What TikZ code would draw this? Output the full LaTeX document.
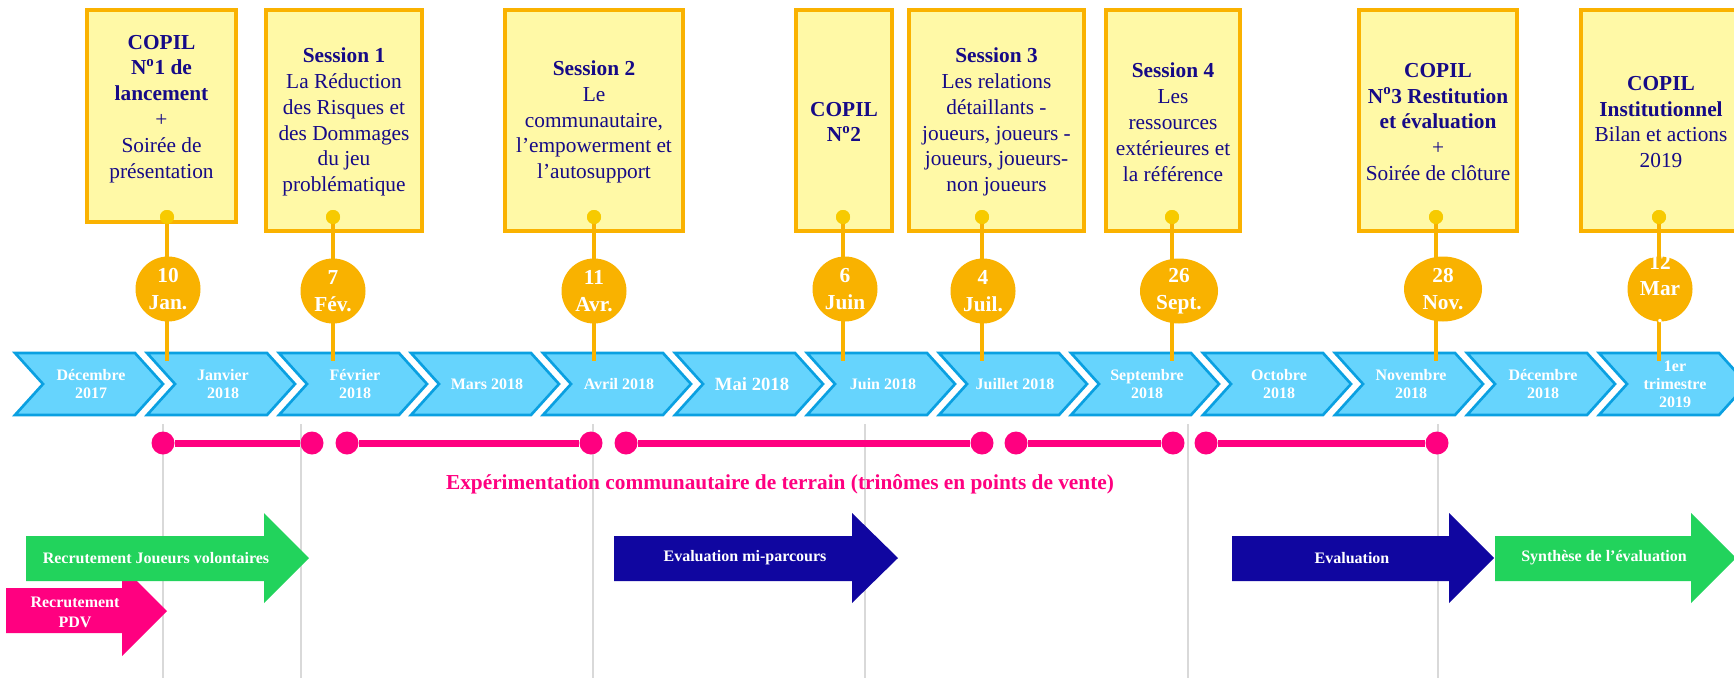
\documentclass[tikz,border=0pt]{standalone}
\usepackage{fontspec}
\setmainfont{Liberation Serif}
\usetikzlibrary{shapes.geometric}
\definecolor{boxborder}{RGB}{250,178,0}
\definecolor{boxfill}{RGB}{255,249,166}
\definecolor{dotc}{RGB}{247,202,0}
\definecolor{datefill}{RGB}{249,178,0}
\definecolor{navytxt}{RGB}{22,10,135}
\definecolor{chevfill}{RGB}{102,212,253}
\definecolor{chevline}{RGB}{10,160,225}
\definecolor{magc}{RGB}{255,0,128}
\definecolor{greenc}{RGB}{34,211,92}
\definecolor{navyc}{RGB}{16,6,160}
\definecolor{gridc}{RGB}{217,217,217}
\begin{document}
\begin{tikzpicture}[x=0.75pt,y=-0.75pt,
  ybox/.style={draw=boxborder,line width=3pt,fill=boxfill,inner sep=0pt,minimum height=165.75pt},
  btxt/.style={align=center,text=navytxt,font=\fontsize{16}{19.4}\selectfont,inner sep=0pt},
  ydot/.style={circle,fill=dotc,minimum size=10.5pt,inner sep=0pt},
  conn/.style={draw=datefill,line width=3pt},
  datecirc/.style={ellipse,fill=datefill,minimum height=48.75pt,minimum width=48.75pt,inner sep=0pt},
  dtxt/.style={align=center,text=white,font=\bfseries\fontsize{16}{20}\selectfont,inner sep=0pt},
  chev/.style={draw=chevline,line width=2pt,fill=chevfill,line join=miter},
  mlab/.style={align=center,text=white,font=\bfseries\fontsize{12}{13.5}\selectfont,inner sep=0pt},
  gline/.style={draw=gridc,line width=1.2pt},
  pdot/.style={circle,fill=magc,minimum size=17.25pt,inner sep=0pt},
  pseg/.style={draw=magc,line width=5.25pt},
  atxt/.style={align=center,text=white,font=\bfseries\fontsize{12}{15}\selectfont,inner sep=0pt}
]
\useasboundingbox[fill=white] (0,0) rectangle (1734,678);

% ---------- grey guide lines ----------
\foreach \gx in {163,301,593,865,1188,1438}{\draw[gline] (\gx,424) -- (\gx,678);}

% ---------- month chevrons ----------
\foreach \i/\t in {0/{Décembre\\2017},1/{Janvier\\2018},2/{Février\\2018},3/{Mars 2018},4/{Avril 2018},6/{Juin 2018},7/{Juillet 2018},8/{Septembre\\2018},9/{Octobre\\2018},10/{Novembre\\2018},11/{Décembre\\2018},12/{1er\\trimestre\\2019}}{
  \pgfmathsetmacro\xo{15+132*\i}
  \draw[chev] (\xo,353) -- ++(120,0) -- ++(28,31) -- ++(-28,31) -- ++(-120,0) -- ++(28,-31) -- cycle;
  \node[mlab] (m\i) at (\xo+76,384) {\t};
}
\draw[chev] (675,353) -- ++(120,0) -- ++(28,31) -- ++(-28,31) -- ++(-120,0) -- ++(28,-31) -- cycle;
\node[mlab,font=\bfseries\fontsize{14}{16}\selectfont] (m5) at (752,384) {Mai 2018};

% ---------- event boxes ----------
\node[ybox,minimum width=111.75pt,minimum height=159pt] (b1) at (161.5,116) {};
\node[ybox,minimum width=117pt] (b2) at (344,120.5) {};
\node[ybox,minimum width=133.5pt] (b3) at (594,120.5) {};
\node[ybox,minimum width=72pt] (b4) at (844,120.5) {};
\node[ybox,minimum width=131.25pt] (b5) at (996.5,120.5) {};
\node[ybox,minimum width=100.5pt] (b6) at (1173,120.5) {};
\node[ybox,minimum width=118.5pt] (b7) at (1438,120.5) {};
\node[ybox,minimum width=120pt] (b8) at (1661,120.5) {};

\node[btxt] (t1) at (161.5,109) {\textbf{COPIL}\\\textbf{N\textsuperscript{o}1 de}\\\textbf{lancement}\\+\\Soirée de\\présentation};
\node[btxt] (t2) at (344,122) {\textbf{Session 1}\\La Réduction\\des Risques et\\des Dommages\\du jeu\\problématique};
\node[btxt] (t3) at (594,122) {\textbf{Session 2}\\Le\\communautaire,\\l’empowerment et\\l’autosupport};
\node[btxt] (t4) at (844,122) {\textbf{COPIL}\\\textbf{N\textsuperscript{o}2}};
\node[btxt] (t5) at (996.5,122) {\textbf{Session 3}\\Les relations\\détaillants -\\joueurs, joueurs -\\joueurs, joueurs-\\non joueurs};
\node[btxt] (t6) at (1173,122) {\textbf{Session 4}\\Les\\ressources\\extérieures et\\la référence};
\node[btxt] (t7) at (1438,122) {\textbf{COPIL}\\\textbf{N\textsuperscript{o}3 Restitution}\\\textbf{et évaluation}\\+\\Soirée de clôture};
\node[btxt] (t8) at (1661,122) {\textbf{COPIL}\\\textbf{Institutionnel}\\Bilan et actions\\2019};

% ---------- connectors ----------
\foreach \k/\dx in {1/167,2/333,3/594,4/843,5/982,6/1172,7/1436,8/1659}{
  \coordinate (e\k) at (\dx,361);
  \node[ydot] (d\k) at (\dx,217) {};
}
\foreach \k in {1,...,8}{\draw[conn] (d\k.center) -- (e\k);}
\foreach \k in {1,...,8}{\node[ydot] at (d\k) {};}

% ---------- date circles ----------
\node[datecirc] (c1) at (168,289) {};
\node[datecirc] (c2) at (333,291) {};
\node[datecirc] (c3) at (594,291) {};
\node[datecirc] (c4) at (845,289) {};
\node[datecirc] (c5) at (983,291) {};
\node[datecirc,minimum width=58.5pt] (c6) at (1179,291) {};
\node[datecirc,minimum width=58.5pt] (c7) at (1443,289) {};
\node[datecirc] (c8) at (1660,289) {};
\node[dtxt] (dt1) at (c1) {10\\Jan.};
\node[dtxt] (dt2) at (c2) {7\\Fév.};
\node[dtxt] (dt3) at (c3) {11\\Avr.};
\node[dtxt] (dt4) at (c4) {6\\Juin};
\node[dtxt] (dt5) at (c5) {4\\Juil.};
\node[dtxt] (dt6) at (c6) {26\\Sept.};
\node[dtxt] (dt7) at (c7) {28\\Nov.};
\node[dtxt] (dt8) at (c8) {12\\Mar\\.};

% ---------- field experimentation segments ----------
\foreach \k/\xa/\xb in {1/163/312,2/347/591,3/626/982,4/1016/1173,5/1206/1437}{
  \node[pdot] (pa\k) at (\xa,443) {};
  \node[pdot] (pb\k) at (\xb,443) {};
  \draw[pseg] (pa\k) -- (pb\k);
}
\node[text=magc,font=\bfseries\fontsize{16}{19}\selectfont,inner sep=0pt] (exp) at (780,484) {Expérimentation communautaire de terrain (trinômes en points de vente)};

% ---------- block arrows ----------
\fill[magc] (6,588) -- (122,588) -- (122,566) -- (167,611) -- (122,656) -- (122,633) -- (6,633) -- cycle;
\fill[greenc] (26,536) -- (264,536) -- (264,513) -- (309,558) -- (264,603) -- (264,581) -- (26,581) -- cycle;
\fill[navyc] (614,536) -- (852,536) -- (852,513) -- (898,558) -- (852,603) -- (852,581) -- (614,581) -- cycle;
\fill[navyc] (1232,536) -- (1449,536) -- (1449,513) -- (1494,558) -- (1449,603) -- (1449,581) -- (1232,581) -- cycle;
\fill[greenc] (1495,536) -- (1691,536) -- (1691,513) -- (1736,558) -- (1691,603) -- (1691,581) -- (1495,581) -- cycle;
\node[atxt] (a1) at (75,612) {Recrutement\\PDV};
\node[atxt] (a2) at (156,558) {Recrutement Joueurs volontaires};
\node[atxt] (a3) at (745,558) {Evaluation mi-parcours};
\node[atxt] (a4) at (1352,558) {Evaluation};
\node[atxt] (a5) at (1604,558) {Synthèse de l’évaluation};
\end{tikzpicture}
\end{document}
